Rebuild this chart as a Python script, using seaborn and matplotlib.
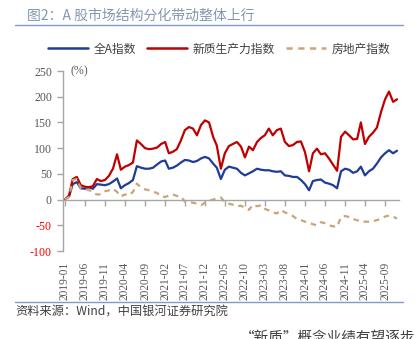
import numpy as np
import pandas as pd
import matplotlib
matplotlib.use("Agg")
import matplotlib.pyplot as plt
import matplotlib.dates as mdates
from matplotlib.lines import Line2D
import seaborn as sns

# ---------------- data (monthly) ----------------
start_month = "2019-01-01"
n_months = 84

all_a = [0, 6, 30, 34, 22, 21, 24, 21, 30, 29, 28, 30,
         35, 41, 22, 28, 32, 38, 65, 62, 60, 60, 62, 68,
         74, 76, 60, 62, 66, 72, 77, 76, 73, 75, 80, 83,
         80, 70, 62, 40, 58, 64, 62, 60, 52, 47, 51, 55,
         60, 58, 57, 57, 55, 54, 55, 47, 46, 44, 44, 38,
         30, 18, 36, 38, 39, 33, 31, 28, 22, 55, 60, 58,
         52, 55, 64, 47, 55, 60, 70, 82, 90, 96, 90, 95]

new_quality = [0, 8, 40, 44, 28, 25, 24, 26, 40, 36, 38, 46,
               60, 88, 58, 64, 67, 72, 115, 108, 100, 98, 99, 101,
               108, 112, 90, 93, 98, 115, 135, 141, 138, 125, 145, 154,
               150, 122, 105, 60, 90, 104, 108, 112, 103, 82, 103, 96,
               112, 120, 125, 138, 125, 135, 138, 112, 104, 106, 112, 113,
               92, 55, 90, 99, 88, 90, 80, 68, 56, 122, 132, 125,
               117, 118, 150, 108, 122, 130, 140, 170, 195, 210, 190, 195]

real_estate = [0, 5, 38, 40, 22, 20, 19, 13, 10, 10, 16, 18,
               21, 15, 6, 10, 8, 15, 31, 24, 20, 18, 15, 13,
               6, 5, 8, 10, 7, 6, -4, -5, -6, -8, -11, -6,
               -2, 0, 2, 4, -5, -8, -10, -13, -12, -16, -20, -10,
               -13, -11, -18, -21, -25, -27, -20, -25, -28, -32, -38, -40,
               -43, -45, -48, -50, -44, -46, -50, -52, -53, -34, -32, -34,
               -38, -40, -43, -43, -43, -42, -40, -37, -33, -31, -33, -37]

series_names = ["全A指数", "新质生产力指数", "房地产指数"]
series_colors = ["#1f3c96", "#c00000", "#c9a57a"]

y_ticks = [-100, -50, 0, 50, 100, 150, 200, 250]
x_tick_start = "2019-01-01"
x_tick_step_months = 5
x_tick_count = 17

title_text = "图2：A 股市场结构分化带动整体上行"
source_text = "资料来源：Wind，中国银河证券研究院"
cut_text = "“新质”概念业绩有望逐步"

# ---------------- build table ----------------
dates = pd.date_range(start_month, periods=n_months, freq="MS")
df = pd.concat([
    pd.DataFrame({"date": dates, "value": vals, "series": name})
    for name, vals in zip(series_names, [all_a, new_quality, real_estate])
], ignore_index=True)

# ---------------- figure ----------------
sns.set_style("white")
plt.rcParams["font.family"] = ["Noto Sans CJK SC", "DejaVu Sans"]

fig = plt.figure(figsize=(4.18, 3.39), dpi=100)
ax = fig.add_axes([63 / 418, 1 - 251 / 339, 336 / 418, 180 / 339])

sns.lineplot(data=df, x="date", y="value", hue="series", style="series",
             hue_order=series_names, style_order=series_names,
             palette=dict(zip(series_names, series_colors)),
             dashes={series_names[0]: "", series_names[1]: "",
                     series_names[2]: (2.5, 2.2)},
             linewidth=1.6, ax=ax, legend=False)

x0 = pd.Timestamp(start_month) - pd.Timedelta(days=15)
x1 = x0 + pd.Timedelta(days=int(84 * 30.44))
ax.set_xlim(x0, x1)
ax.set_ylim(-100, 250)

# spines
for s in ["top", "right"]:
    ax.spines[s].set_visible(False)
ax.spines["left"].set_color("#a6a6a6")
ax.spines["left"].set_linewidth(1.0)
ax.spines["bottom"].set_position(("data", 0))
ax.spines["bottom"].set_color("#a6a6a6")
ax.spines["bottom"].set_linewidth(1.0)

# y ticks
ax.set_yticks(y_ticks)
ax.set_yticklabels([str(v) for v in y_ticks], family="Liberation Serif", fontsize=8.6)
for lbl, v in zip(ax.get_yticklabels(), y_ticks):
    lbl.set_color("#ff0000" if v < 0 else "#595959")
ax.tick_params(axis="y", direction="out", length=4, width=1.0, color="#a6a6a6", pad=4, left=True)

# x ticks
xt = pd.date_range(x_tick_start, periods=x_tick_count, freq=f"{x_tick_step_months}MS")
ax.set_xticks(xt)
ax.set_xticklabels([d.strftime("%Y-%m") for d in xt], rotation=90,
                   family="Liberation Serif", fontsize=8.3, color="#595959", va="top")
ax.tick_params(axis="x", direction="out", length=4, width=1.0, color="#a6a6a6", pad=41, bottom=True)

ax.set_xlabel("")
ax.set_ylabel("")
ax.grid(False)

ax.text(0.022, 1.0, "(%)", transform=ax.transAxes, ha="left", va="center",
        family="Liberation Serif", fontsize=8.6, color="#595959")

# legend
handles = [Line2D([], [], color=series_colors[0], lw=1.8),
           Line2D([], [], color=series_colors[1], lw=1.8),
           Line2D([], [], color=series_colors[2], lw=1.8, dashes=(2.5, 2.2))]
fig.legend(handles, series_names, loc="center", bbox_to_anchor=(219 / 418, 1 - 49 / 339),
           ncol=3, frameon=False, fontsize=8.5, handlelength=3.4, handletextpad=0.5,
           columnspacing=0.9, labelcolor="#404040")

# title and rules
fig.text(27 / 418, 1 - 16 / 339, title_text, ha="left", va="center",
         fontsize=10, color="#8497b0")
fig.add_artist(Line2D([15 / 418, 403 / 418], [1 - 25 / 339, 1 - 25 / 339],
                      transform=fig.transFigure, color="#7f9cc9", lw=1.0))
fig.add_artist(Line2D([15 / 418, 403 / 418], [1 - 302 / 339, 1 - 302 / 339],
                      transform=fig.transFigure, color="#7f9cc9", lw=1.0))
fig.text(15 / 418, 1 - 312 / 339, source_text, ha="left", va="center",
         fontsize=8.8, color="#404040", style="italic")
fig.text(240 / 418, 1 - 331 / 339, cut_text, ha="left", va="top",
         fontsize=10.5, color="#404040")

fig.savefig("out.png", dpi=100)
